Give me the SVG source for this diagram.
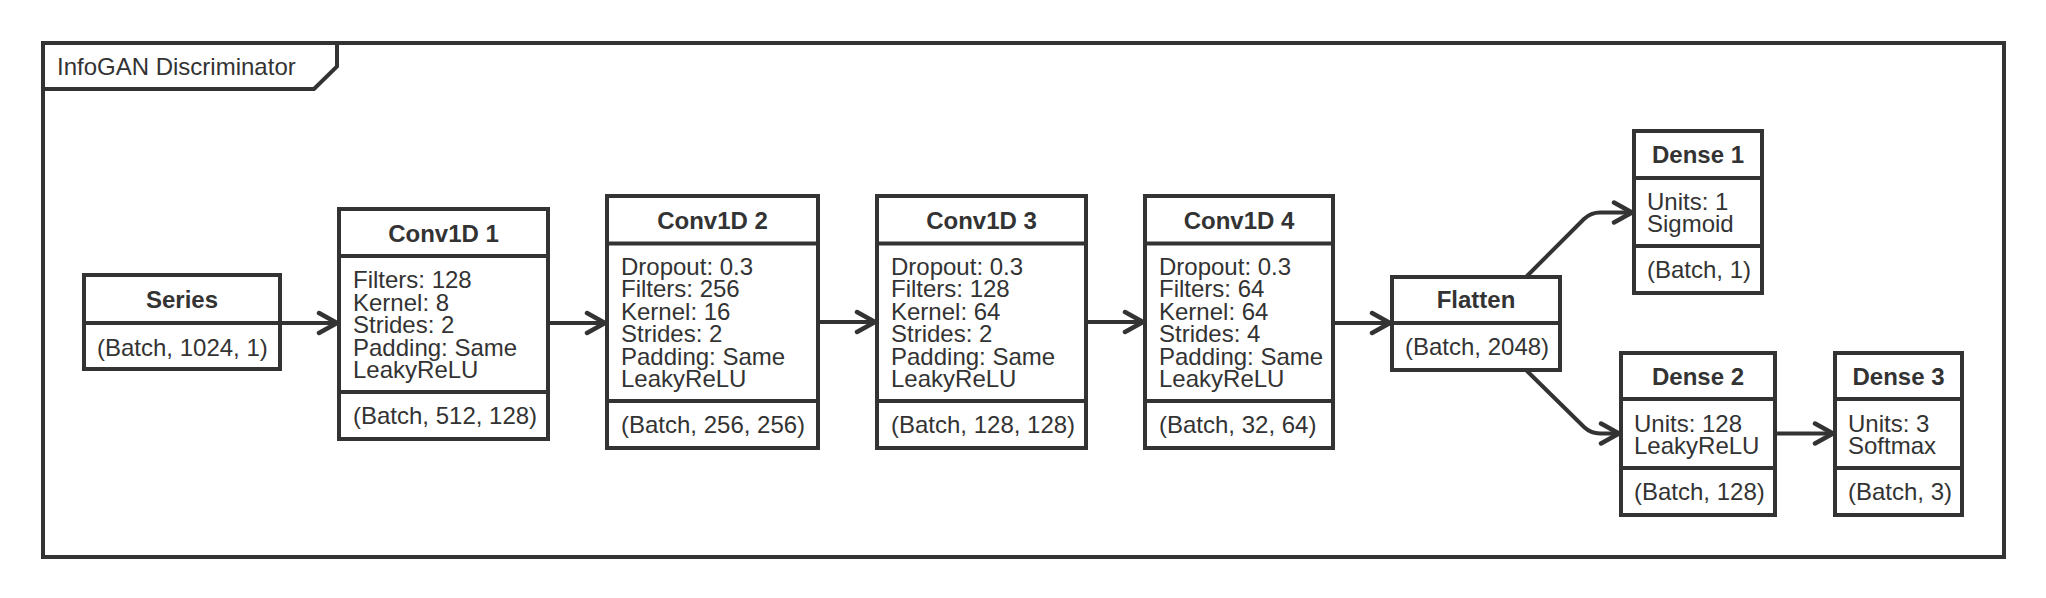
<svg xmlns="http://www.w3.org/2000/svg" width="2046" height="598" viewBox="0 0 2046 598">
<style>
.box{fill:#ffffff;stroke:#333333;stroke-width:4}
.div{stroke:#333333;stroke-width:4}
.t{font-family:"Liberation Sans",Arial,Helvetica,sans-serif;font-size:24px;fill:#333333}
.h{font-weight:bold;text-anchor:middle}
.edge{fill:none;stroke:#333333;stroke-width:4;marker-end:url(#arr)}
</style>
<defs>
<marker id="arr" markerUnits="userSpaceOnUse" viewBox="0 0 26 26" markerWidth="26" markerHeight="26" refX="24" refY="13" orient="auto">
<path d="M4,3 L22,13 L4,23" fill="none" stroke="#333333" stroke-width="4.5" stroke-linejoin="round" stroke-linecap="round"/>
</marker>
</defs>
<rect width="2046" height="598" fill="#ffffff"/>
<g id="frame">
<rect x="43" y="43" width="1961" height="514" fill="none" stroke="#333333" stroke-width="4"/>
<path d="M43,89 L314,89 L337,66.5 L337,43" fill="none" stroke="#333333" stroke-width="4"/>
<text class="t" x="57" y="75">InfoGAN Discriminator</text>
</g>
<g id="series">
<rect class="box" x="84" y="275" width="196" height="94"/>
<line class="div" x1="84" y1="323" x2="280" y2="323"/>
<text class="t h" x="182" y="308">Series</text>
<text class="t" x="97" y="356">(Batch, 1024, 1)</text>
</g>
<g id="conv1">
<rect class="box" x="339" y="209" width="209" height="230"/>
<line class="div" x1="339" y1="256" x2="548" y2="256"/>
<line class="div" x1="339" y1="392" x2="548" y2="392"/>
<text class="t h" x="443.5" y="242">Conv1D 1</text>
<text class="t" x="353" y="288">Filters: 128</text>
<text class="t" x="353" y="310.5">Kernel: 8</text>
<text class="t" x="353" y="333">Strides: 2</text>
<text class="t" x="353" y="355.5">Padding: Same</text>
<text class="t" x="353" y="378">LeakyReLU</text>
<text class="t" x="353" y="424">(Batch, 512, 128)</text>
</g>
<g id="conv2">
<rect class="box" x="607" y="196" width="211" height="252"/>
<line class="div" x1="607" y1="243.5" x2="818" y2="243.5"/>
<line class="div" x1="607" y1="401" x2="818" y2="401"/>
<text class="t h" x="712.5" y="229">Conv1D 2</text>
<text class="t" x="621" y="275">Dropout: 0.3</text>
<text class="t" x="621" y="297.4">Filters: 256</text>
<text class="t" x="621" y="319.8">Kernel: 16</text>
<text class="t" x="621" y="342.2">Strides: 2</text>
<text class="t" x="621" y="364.6">Padding: Same</text>
<text class="t" x="621" y="387">LeakyReLU</text>
<text class="t" x="621" y="432.5">(Batch, 256, 256)</text>
</g>
<g id="conv3">
<rect class="box" x="877" y="196" width="209" height="252"/>
<line class="div" x1="877" y1="243.5" x2="1086" y2="243.5"/>
<line class="div" x1="877" y1="401" x2="1086" y2="401"/>
<text class="t h" x="981.5" y="229">Conv1D 3</text>
<text class="t" x="891" y="275">Dropout: 0.3</text>
<text class="t" x="891" y="297.4">Filters: 128</text>
<text class="t" x="891" y="319.8">Kernel: 64</text>
<text class="t" x="891" y="342.2">Strides: 2</text>
<text class="t" x="891" y="364.6">Padding: Same</text>
<text class="t" x="891" y="387">LeakyReLU</text>
<text class="t" x="891" y="432.5">(Batch, 128, 128)</text>
</g>
<g id="conv4">
<rect class="box" x="1145" y="196" width="188" height="252"/>
<line class="div" x1="1145" y1="243.5" x2="1333" y2="243.5"/>
<line class="div" x1="1145" y1="401" x2="1333" y2="401"/>
<text class="t h" x="1239" y="229">Conv1D 4</text>
<text class="t" x="1159" y="275">Dropout: 0.3</text>
<text class="t" x="1159" y="297.4">Filters: 64</text>
<text class="t" x="1159" y="319.8">Kernel: 64</text>
<text class="t" x="1159" y="342.2">Strides: 4</text>
<text class="t" x="1159" y="364.6">Padding: Same</text>
<text class="t" x="1159" y="387">LeakyReLU</text>
<text class="t" x="1159" y="432.5">(Batch, 32, 64)</text>
</g>
<g id="flatten">
<rect class="box" x="1392" y="277" width="168" height="93"/>
<line class="div" x1="1392" y1="323" x2="1560" y2="323"/>
<text class="t h" x="1476" y="308">Flatten</text>
<text class="t" x="1405" y="355">(Batch, 2048)</text>
</g>
<g id="dense1">
<rect class="box" x="1634" y="131" width="128" height="162"/>
<line class="div" x1="1634" y1="178" x2="1762" y2="178"/>
<line class="div" x1="1634" y1="246" x2="1762" y2="246"/>
<text class="t h" x="1698" y="163">Dense 1</text>
<text class="t" x="1647" y="209.5">Units: 1</text>
<text class="t" x="1647" y="232">Sigmoid</text>
<text class="t" x="1647" y="278">(Batch, 1)</text>
</g>
<g id="dense2">
<rect class="box" x="1621" y="353" width="154" height="162"/>
<line class="div" x1="1621" y1="399" x2="1775" y2="399"/>
<line class="div" x1="1621" y1="468" x2="1775" y2="468"/>
<text class="t h" x="1698" y="385">Dense 2</text>
<text class="t" x="1634" y="431.5">Units: 128</text>
<text class="t" x="1634" y="454">LeakyReLU</text>
<text class="t" x="1634" y="500">(Batch, 128)</text>
</g>
<g id="dense3">
<rect class="box" x="1835" y="353" width="127" height="162"/>
<line class="div" x1="1835" y1="399" x2="1962" y2="399"/>
<line class="div" x1="1835" y1="468" x2="1962" y2="468"/>
<text class="t h" x="1898.5" y="385">Dense 3</text>
<text class="t" x="1848" y="431.5">Units: 3</text>
<text class="t" x="1848" y="454">Softmax</text>
<text class="t" x="1848" y="500">(Batch, 3)</text>
</g>
<g id="connectors">
<path class="edge" d="M280,323 L339,323"/>
<path class="edge" d="M548,323 L607,323"/>
<path class="edge" d="M818,322 L877,322"/>
<path class="edge" d="M1086,322 L1145,322"/>
<path class="edge" d="M1333,323 L1392,323"/>
<path class="edge" d="M1526,277 L1584,219 Q1591,212.5 1600,212.5 L1634,212.5"/>
<path class="edge" d="M1526,370 L1584,427 Q1591,433.5 1600,433.5 L1621,433.5"/>
<path class="edge" d="M1775,433.5 L1835,433.5"/>
</g>
</svg>
